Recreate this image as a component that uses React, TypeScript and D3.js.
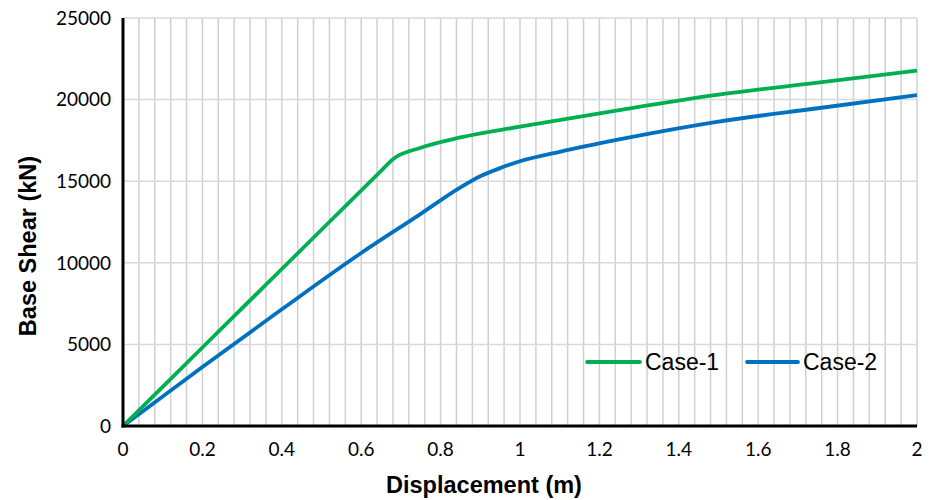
import React from "react";
import * as d3 from "d3";

const case1X = [0, 0.2, 0.4, 0.65, 0.68, 0.75, 0.85, 1.0, 1.25, 1.5, 1.75, 2.0];
const case1Y = [0, 4810, 9620, 15630, 16350, 17050, 17680, 18340, 19360, 20300, 21040, 21770];
const case2X = [0, 0.2, 0.4, 0.6, 0.75, 0.85, 0.9, 0.95, 1.0, 1.1, 1.25, 1.5, 1.75, 2.0];
const case2Y = [0, 3620, 7150, 10600, 13000, 14620, 15300, 15800, 16220, 16800, 17560, 18650, 19470, 20280];
const xTicks = [0, 0.2, 0.4, 0.6, 0.8, 1, 1.2, 1.4, 1.6, 1.8, 2];
const yTicks = [0, 5000, 10000, 15000, 20000, 25000];
const seriesNames = ["Case-1", "Case-2"];
const colors = ["#00b050", "#0070c0"];

export default function App() {
  const W = 933, H = 500;
  const left = 123, right = 917, top = 18, bottom = 426;
  const x = d3.scaleLinear().domain([0, 2]).range([left, right]);
  const y = d3.scaleLinear().domain([0, 25000]).range([bottom, top]);
  const minor = d3.range(1, 51).map((i) => i * 0.04);
  const line = d3
    .line<[number, number]>()
    .x((d) => x(d[0]))
    .y((d) => y(d[1]))
    .curve(d3.curveMonotoneX);
  const s1 = case1X.map((v, i) => [v, case1Y[i]] as [number, number]);
  const s2 = case2X.map((v, i) => [v, case2Y[i]] as [number, number]);
  const tickFont = "Lato, 'Open Sans', sans-serif";
  const titleFont = "'Liberation Sans', Arial, sans-serif";
  const legendItems = [
    { x1: 587, x2: 640, tx: 645 },
    { x1: 747, x2: 798, tx: 803 },
  ];
  return (
    <svg
      width={W}
      height={H}
      style={{ position: "absolute", left: 0, top: 0, background: "#fff" }}
    >
      {minor.map((v) => (
        <line key={"v" + v} x1={x(v)} x2={x(v)} y1={top} y2={bottom} stroke="#d0d0d0" strokeWidth={1.5} />
      ))}
      {yTicks.slice(1).map((v) => (
        <line key={"h" + v} x1={left} x2={right} y1={y(v)} y2={y(v)} stroke="#d9d9d9" strokeWidth={1.5} />
      ))}
      <path d={line(s2) || ""} fill="none" stroke={colors[1]} strokeWidth={3.8} />
      <path d={line(s1) || ""} fill="none" stroke={colors[0]} strokeWidth={3.8} />
      <line x1={left} x2={left} y1={top} y2={bottom + 1.5} stroke="#000" strokeWidth={3} />
      <line x1={left - 1.5} x2={right} y1={bottom} y2={bottom} stroke="#000" strokeWidth={3} />
      {yTicks.map((v) => (
        <text key={"yt" + v} x={111} y={y(v)} dy="0.36em" textAnchor="end" fontFamily={tickFont} fontSize={19} fill="#000">
          {v}
        </text>
      ))}
      {xTicks.map((v) => (
        <text key={"xt" + v} x={x(v)} y={456} textAnchor="middle" fontFamily={tickFont} fontSize={19} fill="#000">
          {v}
        </text>
      ))}
      <text x={484} y={493} textAnchor="middle" fontFamily={titleFont} fontWeight="bold" fontSize={23.5} fill="#000">
        Displacement (m)
      </text>
      <text
        transform={`translate(36, 246) rotate(-90)`}
        textAnchor="middle"
        fontFamily={titleFont}
        fontWeight="bold"
        fontSize={23.5}
        fill="#000"
      >
        Base Shear (kN)
      </text>
      {legendItems.map((l, i) => (
        <g key={"lg" + i}>
          <line x1={l.x1} x2={l.x2} y1={362} y2={362} stroke={colors[i]} strokeWidth={3.8} strokeLinecap="round" />
          <text x={l.tx} y={369.5} fontFamily={titleFont} fontSize={23} fill="#000">
            {seriesNames[i]}
          </text>
        </g>
      ))}
    </svg>
  );
}
